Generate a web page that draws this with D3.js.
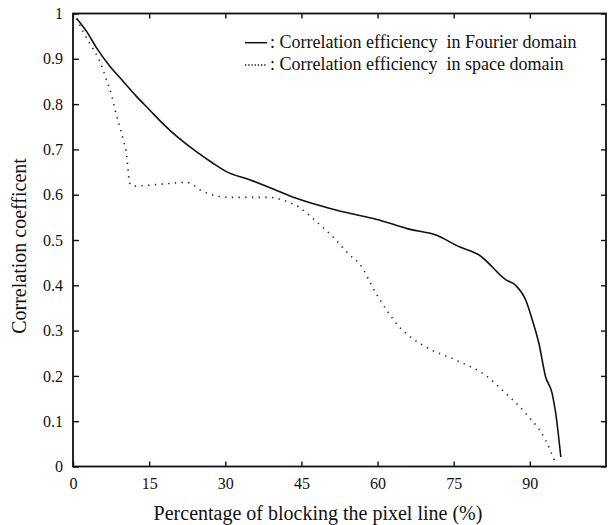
<!DOCTYPE html>
<html lang="en">
<head>
    <meta charset="UTF-8">
    <title>Correlation coefficient chart</title>
    <style>
        body { margin: 0; background: #fff; }
        text { font-family: "Liberation Serif", "Times New Roman", serif; fill: #111; }
    </style>
</head>
<body>
    <div id="container"></div>

    <script src="https://cdn.jsdelivr.net/npm/d3@7"></script>
    <script>
        // values
        var fourierX = [0.7, 2.7, 4.7, 7.3, 9.9, 12.5, 15.1, 17.5, 20.5, 24.3, 27.5, 30.2, 34.8, 38.7, 44, 51.2, 54.5, 59.7, 66.2, 71.5, 76.1, 80, 85.3, 87.2, 89.2, 90.5, 91.8, 93.1, 94.4, 95.1, 96.1];
        var fourierY = [0.989, 0.96, 0.923, 0.883, 0.85, 0.817, 0.787, 0.759, 0.728, 0.695, 0.67, 0.651, 0.633, 0.616, 0.592, 0.568, 0.559, 0.546, 0.524, 0.511, 0.485, 0.467, 0.412, 0.4, 0.367, 0.323, 0.271, 0.198, 0.161, 0.117, 0.021];

        var spaceX = [0.7, 2, 3.3, 5.3, 6.6, 7.6, 8.3, 9.2, 9.9, 10.6, 10.9, 11.2, 11.9, 17, 22.4, 25.6, 30.9, 38.7, 41.3, 44.6, 47.5, 51.2, 54.5, 56.4, 59.7, 64.3, 69.5, 75.4, 81.3, 85.3, 89.2, 93.1, 95.1];
        var spaceY = [0.989, 0.96, 0.934, 0.894, 0.853, 0.82, 0.787, 0.75, 0.721, 0.684, 0.647, 0.625, 0.619, 0.623, 0.627, 0.607, 0.594, 0.594, 0.588, 0.572, 0.545, 0.507, 0.467, 0.448, 0.382, 0.308, 0.264, 0.235, 0.201, 0.161, 0.117, 0.058, 0.006];

        var xTicks = [0, 15, 30, 45, 60, 75, 90];
        var yTicks = [0, 0.1, 0.2, 0.3, 0.4, 0.5, 0.6, 0.7, 0.8, 0.9, 1];
        var legendLabels = [": Correlation efficiency  in Fourier domain", ": Correlation efficiency  in space domain"];

        // "top" is taken by window.top, so name the margins plainly
        var marginLeft = 73, marginTop = 13.5, width = 533, height = 453;

        var svg = d3.select("#container")
            .append("svg")
            .attr("width", 608)
            .attr("height", 525);

        var g = svg.append("g")
            .attr("transform", "translate(" + marginLeft + "," + marginTop + ")");

        var x = d3.scaleLinear().domain([0, 105]).range([0, width]);
        var y = d3.scaleLinear().domain([0, 1]).range([height, 0]);

        // axes, ticks pointing inside the frame
        g.append("g")
            .attr("transform", "translate(0," + height + ")")
            .call(d3.axisBottom(x).tickValues(xTicks).tickSizeInner(-5).tickSizeOuter(0).tickPadding(11));
        g.append("g")
            .call(d3.axisLeft(y).tickValues(yTicks).tickFormat(d3.format("~g")).tickSizeInner(-6).tickSizeOuter(0).tickPadding(10));
        g.append("g")
            .call(d3.axisTop(x).tickValues(xTicks).tickSizeInner(-5).tickSizeOuter(0).tickFormat(""));
        g.append("g")
            .attr("transform", "translate(" + width + ",0)")
            .call(d3.axisRight(y).tickValues(yTicks).tickSizeInner(-5).tickSizeOuter(0).tickFormat(""));

        g.selectAll(".domain").remove();
        g.selectAll(".tick line").attr("stroke", "#111").attr("stroke-width", 1.4);
        g.selectAll(".tick text")
            .style("font-family", "'Liberation Serif', serif")
            .style("font-size", "16px")
            .attr("fill", "#111");

        // frame
        g.append("rect")
            .attr("width", width)
            .attr("height", height)
            .attr("fill", "none")
            .attr("stroke", "#111")
            .attr("stroke-width", 1.8);

        var line = d3.line()
            .x(function(d) { return x(d[0]); })
            .y(function(d) { return y(d[1]); })
            .curve(d3.curveMonotoneX);

        var fourier = d3.zip(fourierX, fourierY);
        var space = d3.zip(spaceX, spaceY);

        g.append("path")
            .datum(fourier)
            .attr("d", line)
            .attr("fill", "none")
            .attr("stroke", "#111")
            .attr("stroke-width", 1.6);

        g.append("path")
            .datum(space)
            .attr("d", line)
            .attr("fill", "none")
            .attr("stroke", "#222")
            .attr("stroke-width", 1.6)
            .attr("stroke-dasharray", "1.3,5.4");

        // legend
        var legend = svg.append("g");
        legendLabels.forEach(function(label, i) {
            var ly = 42.7 + i * 22.3;
            legend.append("line")
                .attr("x1", 245).attr("x2", 267)
                .attr("y1", ly).attr("y2", ly)
                .attr("stroke", "#111")
                .attr("stroke-width", 1.5)
                .attr("stroke-dasharray", i === 0 ? null : "1.3,1.9");
            legend.append("text")
                .attr("x", 270)
                .attr("y", ly + 5)
                .style("font-size", "18px")
                .style("white-space", "pre")
                .text(label);
        });

        // axis titles
        svg.append("text")
            .attr("x", 318)
            .attr("y", 520)
            .attr("text-anchor", "middle")
            .style("font-size", "20px")
            .text("Percentage of blocking the pixel line (%)");

        svg.append("text")
            .attr("transform", "translate(26,246) rotate(-90)")
            .attr("text-anchor", "middle")
            .style("font-size", "20px")
            .text("Correlation coefficent");
    </script>
</body>
</html>
